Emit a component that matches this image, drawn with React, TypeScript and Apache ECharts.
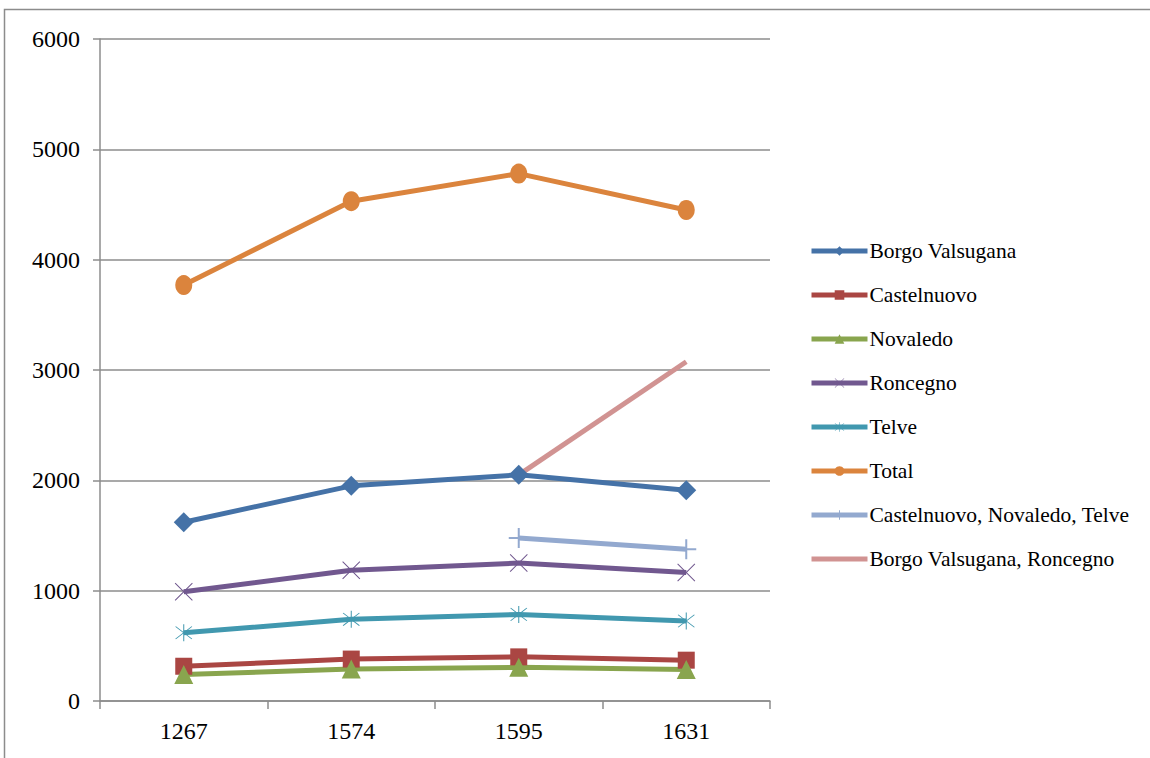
import React, { useEffect, useRef } from "react";
import * as echarts from "echarts";

const years = ["1267", "1574", "1595", "1631"];
const borgo = [1620, 1950, 2050, 1910];
const castelnuovo = [315, 380, 400, 370];
const novaledo = [240, 290, 305, 285];
const roncegno = [990, 1185, 1250, 1165];
const telve = [618, 740, 785, 725];
const total = [3770, 4530, 4780, 4450];
const cnt = [null, null, 1478, 1375];
const borgoRoncegno = [null, null, 2050, 3075];
const yTicks = [0, 1000, 2000, 3000, 4000, 5000, 6000];
const seriesNames = [
  "Borgo Valsugana",
  "Castelnuovo",
  "Novaledo",
  "Roncegno",
  "Telve",
  "Total",
  "Castelnuovo, Novaledo, Telve",
  "Borgo Valsugana, Roncegno",
];

const X_PATH = "path://M0,4 L4,0 L50,46 L96,0 L100,4 L54,50 L100,96 L96,100 L50,54 L4,100 L0,96 L46,50 Z";
const STAR_PATH = "path://M0,4 L4,0 L50,46 L96,0 L100,4 L54,50 L100,96 L96,100 L50,54 L4,100 L0,96 L46,50 Z M47,-15 L53,-15 L53,115 L47,115 Z";
const PLUS_PATH = "path://M45,0 L55,0 L55,45 L100,45 L100,55 L55,55 L55,100 L45,100 L45,55 L0,55 L0,45 L45,45 Z";

export default function App() {
  const ref = useRef<HTMLDivElement>(null);
  useEffect(() => {
    const chart = echarts.init(ref.current!, null, { renderer: "svg" });
    const font = "Liberation Serif";
    const mk = (name: string, data: any[], color: string, symbol: string, size: any) => ({
      name,
      type: "line",
      data,
      symbol,
      symbolSize: size,
      connectNulls: false,
      lineStyle: { color, width: 5 },
      itemStyle: { color },
    });
    chart.setOption({
      animation: false,
      backgroundColor: "#fff",
      textStyle: { fontFamily: font },
      graphic: [
        {
          type: "rect",
          shape: { x: 4.5, y: 9.5, width: 1300, height: 900 },
          style: { fill: "none", stroke: "#8c8c8c", lineWidth: 1.5 },
          silent: true,
        },
      ],
      grid: { left: 100, right: 380, top: 39, bottom: 57 },
      legend: {
        orient: "vertical",
        left: 804,
        top: 235,
        itemWidth: 56,
        itemHeight: 12,
        itemGap: 22,
        lineStyle: { width: 5 },
        textStyle: { fontFamily: font, fontSize: 21.5, color: "#000", padding: [0, 0, 0, -3] },
        data: seriesNames.map((n, i) =>
          i === seriesNames.length - 1 ? { name: n, itemStyle: { opacity: 0 } } : n
        ),
      },
      xAxis: {
        type: "category",
        data: years,
        boundaryGap: true,
        axisLine: { lineStyle: { color: "#8c8c8c", width: 1.5 } },
        axisTick: { show: true, length: 8, lineStyle: { color: "#8c8c8c", width: 1.5 } },
        axisLabel: { fontFamily: font, fontSize: 24, color: "#000", margin: 18 },
        splitLine: { show: false },
      },
      yAxis: {
        type: "value",
        min: 0,
        max: 6000,
        interval: 1000,
        axisLine: { show: true, lineStyle: { color: "#8c8c8c", width: 1.5 } },
        axisTick: { show: true, length: 7, lineStyle: { color: "#8c8c8c", width: 1.5 } },
        axisLabel: {
          fontFamily: font,
          fontSize: 24,
          color: "#000",
          margin: 20,
          formatter: (v: number) => (yTicks.includes(v) ? String(v) : ""),
        },
        splitLine: { show: true, lineStyle: { color: "#8c8c8c", width: 1.5 } },
      },
      series: [
        mk(seriesNames[0], borgo, "#4572A7", "diamond", 20),
        mk(seriesNames[1], castelnuovo, "#AA4643", "rect", 17),
        mk(seriesNames[2], novaledo, "#89A54E", "triangle", 19),
        mk(seriesNames[3], roncegno, "#71588F", X_PATH, 18),
        mk(seriesNames[4], telve, "#4198AF", STAR_PATH, 17),
        mk(seriesNames[5], total, "#DB843D", "circle", [17, 20]),
        mk(seriesNames[6], cnt, "#93A9CF", PLUS_PATH, 20),
        mk(seriesNames[7], borgoRoncegno, "#D19392", "none", 0),
      ],
    });
    return () => chart.dispose();
  }, []);
  return (
    <div
      ref={ref}
      style={{ position: "fixed", left: 0, top: 0, width: 1150, height: 758, background: "#fff" }}
    />
  );
}
